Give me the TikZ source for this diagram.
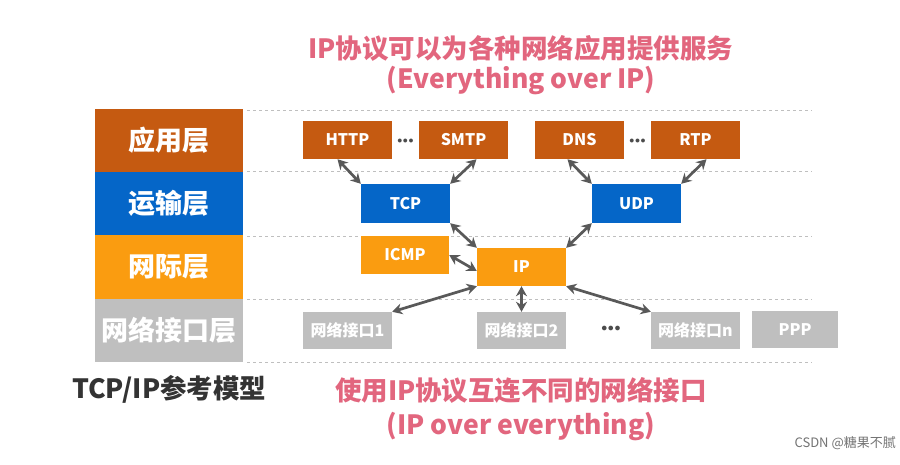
\documentclass[tikz,border=0pt]{standalone}
\usepackage{fontspec}
\setmainfont{Noto Sans CJK SC}
\usetikzlibrary{arrows.meta,calc}
\definecolor{appc}{HTML}{C55A11}
\definecolor{trc}{HTML}{0566C8}
\definecolor{netc}{HTML}{FA9C10}
\definecolor{ifc}{HTML}{BFBFBF}
\definecolor{pinkc}{HTML}{E2667E}
\definecolor{arrc}{HTML}{595959}
\definecolor{titlec}{HTML}{333333}
\tikzset{
  layerbox/.style={minimum width=148pt,inner sep=0pt,font=\fontsize{27}{30}\selectfont\bfseries,text=white},
  protobox/.style={minimum width=89pt,minimum height=38pt,inner sep=0pt,font=\fontsize{16}{18}\selectfont\bfseries,text=white},
  sepline/.style={draw=black!25,dashed,line width=0.8pt},
  biarrow/.style={draw=arrc,line width=2.7pt,{Stealth[length=10pt,width=11pt]}-{Stealth[length=10pt,width=11pt]}},
  pinktext/.style={text=pinkc,font=\fontsize{26.5}{30}\selectfont\bfseries,inner sep=0pt},
  dotstext/.style={text=black!70,inner sep=0pt}
}
\begin{document}
\begin{tikzpicture}[x=1pt,y=-1pt]
\useasboundingbox[fill=white] (0,0) rectangle (900,464);
% dashed separators
\foreach \yy in {110,171,236,299,362}
  \draw[sepline] (247,\yy) -- (812,\yy);
% layer boxes
\node[layerbox,fill=appc,minimum height=63pt] (Lapp) at (169,140) {应用层};
\node[layerbox,fill=trc,minimum height=64pt] (Ltr) at (169,203.5) {运输层};
\node[layerbox,fill=netc,minimum height=64pt] (Lnet) at (169,267) {网际层};
\node[layerbox,fill=ifc,minimum height=63pt] (Lif) at (169,330.5) {网络接口层};
% application
\node[protobox,fill=appc] (HTTP) at (347.5,140) {HTTP};
\node[protobox,fill=appc] (SMTP) at (463.5,140) {SMTP};
\node[protobox,fill=appc] (DNS) at (579.5,140) {DNS};
\node[protobox,fill=appc] (RTP) at (695.5,140) {RTP};
\node[dotstext,font=\fontsize{10}{12}\selectfont] (d1) at (405.5,141) {$\bullet\!\bullet\!\bullet$};
\node[dotstext,font=\fontsize{10}{12}\selectfont] (d2) at (637.5,141) {$\bullet\!\bullet\!\bullet$};
% transport
\node[protobox,fill=trc,minimum height=39pt] (TCP) at (405.5,203.5) {TCP};
\node[protobox,fill=trc,minimum height=39pt] (UDP) at (636.5,203.5) {UDP};
% network
\node[protobox,fill=netc,minimum width=88pt] (ICMP) at (405,255) {ICMP};
\node[protobox,fill=netc] (IP) at (521.5,267) {IP};
% interface
\node[protobox,fill=ifc,minimum height=37pt] (if1) at (347.5,330.5) {网络接口1};
\node[protobox,fill=ifc,minimum height=37pt] (if2) at (521.5,330.5) {网络接口2};
\node[protobox,fill=ifc,minimum height=37pt] (ifn) at (695.5,330.5) {网络接口n};
\node[protobox,fill=ifc,minimum width=86pt,minimum height=37pt] (PPP) at (795,329.5) {PPP};
\node[dotstext,font=\fontsize{13}{15}\selectfont] (d3) at (611,329) {$\bullet\!\bullet\!\bullet$};
% arrows
\draw[biarrow] ([xshift=-10pt]HTTP.south) -- (TCP.north west);
\draw[biarrow] ([xshift=13pt]SMTP.south) -- (TCP.north east);
\draw[biarrow] ([xshift=-12pt]DNS.south) -- (UDP.north west);
\draw[biarrow] ([xshift=11pt]RTP.south) -- (UDP.north east);
\draw[biarrow] (TCP.south east) -- (IP.north west);
\draw[biarrow] (ICMP.east) -- ([yshift=-4pt]IP.west);
\draw[biarrow] (UDP.south west) -- (IP.north east);
\draw[biarrow] (IP.south west) -- (if1.north east);
\draw[biarrow] (IP.south) -- (if2.north);
\draw[biarrow] (IP.south east) -- (ifn.north west);
% texts
\node[pinktext] (t1) at (521,48) {IP协议可以为各种网络应用提供服务};
\node[pinktext] (t2) at (521,81) {(Everything over IP)};
\node[text=titlec,font=\fontsize{26.5}{30}\selectfont\bfseries,inner sep=0pt,anchor=west] (t3) at (72,389) {TCP/IP参考模型};
\node[pinktext] (t4) at (521,390) {使用IP协议互连不同的网络接口};
\node[pinktext] (t5) at (521,427) {(IP over everything)};
\node[text=black!55,font=\fontsize{13}{15}\selectfont,inner sep=0pt,anchor=east] (wm) at (896,443) {CSDN @糖果不腻};
\end{tikzpicture}
\end{document}
